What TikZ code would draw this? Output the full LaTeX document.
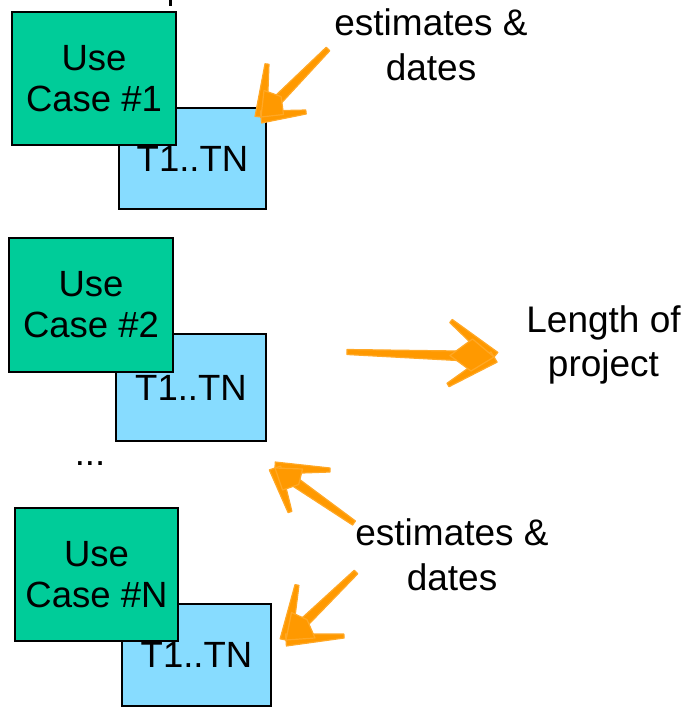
\documentclass[tikz,border=0pt]{standalone}
\usepackage{fontspec}
\setmainfont{Liberation Sans}
\usetikzlibrary{calc}
\begin{document}
\begin{tikzpicture}[x=1pt,y=-1pt,
  every node/.style={font=\fontsize{36.5}{41}\selectfont, inner sep=0pt, align=center},
  ucbox/.style={draw=black, line width=2.5pt, fill=ucgreen},
  taskbox/.style={draw=black, line width=2.5pt, fill=taskblue},
  label/.style={font=\fontsize{37}{44.5}\selectfont},
  brush/.style={fill=arroworange, draw=arroworange!85!white, line width=1.2pt, line join=round}]
\definecolor{ucgreen}{RGB}{0,204,153}
\definecolor{taskblue}{RGB}{135,220,255}
\definecolor{arroworange}{RGB}{255,153,0}
\useasboundingbox (0,0) rectangle (684,708);

% fragment of a line of text above the first block
\draw[line width=3pt] (170.5,-2) -- (170.5,6);

% use case blocks: task box behind, use case box in front
\node[taskbox, minimum width=147, minimum height=101] (t1) at (192.5,158.5) {T1..TN};
\node[ucbox, minimum width=164, minimum height=133] (uc1) at (94,78.5) {Use\\Case \#1};

\node[taskbox, minimum width=150, minimum height=107] (t2) at (191,387.5) {T1..TN};
\node[ucbox, minimum width=164, minimum height=134] (uc2) at (91,305) {Use\\Case \#2};

\node (dots) at (90,464) {...};

\node[taskbox, minimum width=149, minimum height=102] (tn) at (196.5,655) {T1..TN};
\node[ucbox, minimum width=163, minimum height=133] (ucn) at (96.5,574.5) {Use\\Case \#N};

% labels
\node[label] (est1) at (431,45) {estimates \&\\dates};
\node[label] (len) at (603.5,345) {Length of\\project};
\node[label] (est2) at (452,555) {estimates \&\\dates};

% hand drawn arrows: tail, tip and the two barb ends
\coordinate (a1tail) at (328,49);  \coordinate (a1tip) at (261,117);
\coordinate (a1b1) at (267,64);    \coordinate (a1b2) at (306,112);
\coordinate (a2tail) at (347,352); \coordinate (a2tip) at (494,357);
\coordinate (a2b1) at (451,321);   \coordinate (a2b2) at (448,385);
\coordinate (a3tail) at (354,523); \coordinate (a3tip) at (275,468);
\coordinate (a3b1) at (330,470);   \coordinate (a3b2) at (290,512);
\coordinate (a4tail) at (356,572); \coordinate (a4tip) at (286,640);
\coordinate (a4b1) at (297,585);   \coordinate (a4b2) at (344,636);

% each stroke is a tapered band: narrow at the far end, wide at the tip
\foreach \a in {a1,a2,a3,a4}{
  % shaft
  \path[brush] ($(\a tail)!2.5pt!90:(\a tip)$) -- ($(\a tail)!2.5pt!-90:(\a tip)$)
    -- ($(\a tip)!5.5pt!90:(\a tail)$) -- ($(\a tip)!5.5pt!-90:(\a tail)$) -- cycle;
  % barbs
  \path[brush] ($(\a b1)!2pt!90:(\a tip)$) -- ($(\a b1)!2pt!-90:(\a tip)$)
    -- ($(\a tip)!6pt!90:(\a b1)$) -- ($(\a tip)!6pt!-90:(\a b1)$) -- cycle;
  \path[brush] ($(\a b2)!2pt!90:(\a tip)$) -- ($(\a b2)!2pt!-90:(\a tip)$)
    -- ($(\a tip)!6pt!90:(\a b2)$) -- ($(\a tip)!6pt!-90:(\a b2)$) -- cycle;
  % filled wedge where the strokes meet
  \path[brush] (\a tip) -- ($(\a tip)!0.5!(\a b1)$) -- ($(\a tip)!0.3!(\a tail)$)
    -- ($(\a tip)!0.5!(\a b2)$) -- cycle;
}
\end{tikzpicture}
\end{document}
